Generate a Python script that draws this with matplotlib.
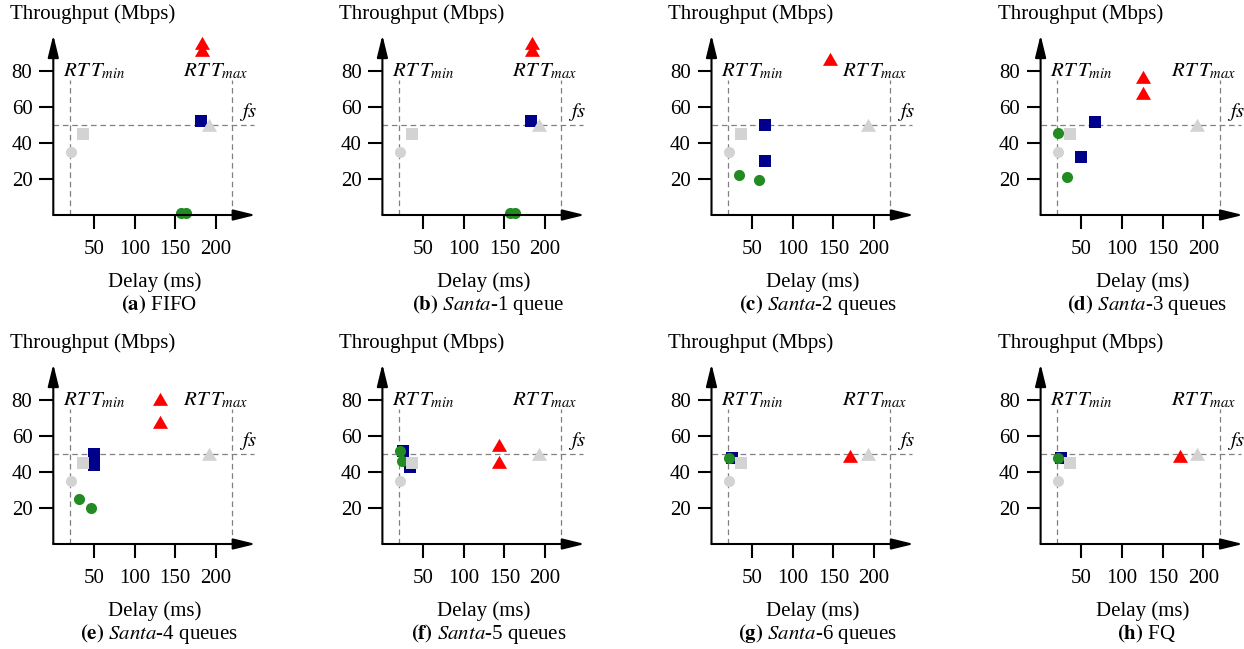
import matplotlib
matplotlib.use('Agg')
import matplotlib.pyplot as plt

plt.rcParams['font.family'] = 'serif'
plt.rcParams['font.serif'] = ['Liberation Serif', 'STIXGeneral', 'DejaVu Serif']
plt.rcParams['mathtext.fontset'] = 'stix'

# one entry per panel (a)..(h)
captions = [r'$\mathbf{(a)}$ FIFO',
            r'$\mathbf{(b)}$ $\mathit{Santa}$-1 queue',
            r'$\mathbf{(c)}$ $\mathit{Santa}$-2 queues',
            r'$\mathbf{(d)}$ $\mathit{Santa}$-3 queues',
            r'$\mathbf{(e)}$ $\mathit{Santa}$-4 queues',
            r'$\mathbf{(f)}$ $\mathit{Santa}$-5 queues',
            r'$\mathbf{(g)}$ $\mathit{Santa}$-6 queues',
            r'$\mathbf{(h)}$ FQ']

delay_green = [[157, 163], [157, 163], [34, 59], [21, 32], [32, 46], [22, 24], [21], [21]]
thr_green = [[1, 1], [1, 1], [22, 19.5], [45.5, 21], [25, 20], [51.5, 46], [48], [48]]

delay_blue = [[182], [183], [65.5, 65.5], [67, 50], [50, 50], [25, 34.5], [25], [25]]
thr_blue = [[52], [52], [50, 30], [51.5, 32], [50, 44], [51.5, 43], [48], [48]]

delay_red = [[183, 183], [184, 184], [146], [126, 126], [131, 131], [143, 143], [170], [171]]
thr_red = [[94.3, 90.3], [94.3, 90.3], [85.6], [75.3, 66.8], [79.3, 66.8], [53.8, 44.3], [48], [48]]

# reference points (same in every panel)
ref_circle = (22, 35)
ref_square = (36, 45)
ref_triangle = (192, 49)

rtt_min = 20
rtt_max = 220
fair_share = 50

W, H = 1244, 649
fig = plt.figure(figsize=(W / 100, H / 100), dpi=100)

lefts = [53.3, 382.4, 711.5, 1040.6]
bottoms = [215, 544]
ax_w, ax_h = 203.3, 180

gray_d = '#808080'
light = '#d3d3d3'
tri = (3, 0, 0)
fs = 15

for i in range(8):
    r, c = divmod(i, 4)
    ax = fig.add_axes([lefts[c] / W, 1 - bottoms[r] / H, ax_w / W, ax_h / H])
    ax.set_xlim(0, 250)
    ax.set_ylim(0, 100)
    for s in ax.spines.values():
        s.set_visible(False)

    # axes with arrows
    arr = dict(arrowstyle='-|>,head_length=0.9,head_width=0.22', lw=1.5, color='k',
               shrinkA=0, shrinkB=0, mutation_scale=15)
    ax.annotate('', xy=(249, 0), xytext=(0, 0), arrowprops=arr, annotation_clip=False)
    ax.annotate('', xy=(0, 100), xytext=(0, 0), arrowprops=arr, annotation_clip=False)

    ax.set_xticks([50, 100, 150, 200])
    ax.set_yticks([20, 40, 60, 80])
    ax.tick_params(axis='both', direction='out', length=10, width=1.5, labelsize=fs)
    ax.tick_params(axis='x', pad=8)
    ax.tick_params(axis='y', pad=5)

    # guide lines
    dash = dict(color=gray_d, lw=0.9, dashes=(4.5, 3))
    ax.plot([rtt_min, rtt_min], [0, 75], **dash)
    ax.plot([rtt_max, rtt_max], [0, 75], **dash)
    ax.plot([0, 247], [fair_share, fair_share], clip_on=False, **dash)
    ax.text(50, 80, r'$RT\,T_{min}$', ha='center', va='center', fontsize=fs)
    ax.text(200, 80, r'$RT\,T_{max}$', ha='center', va='center', fontsize=fs)
    ax.text(240, 57, r'$fs$', ha='center', va='center', fontsize=fs)

    # flows
    ax.plot(delay_blue[i], thr_blue[i], 's', color='#00008b', ms=8, mew=0, clip_on=False)
    ax.plot(delay_green[i], thr_green[i], 'o', color='#228b22', ms=8, mew=0, clip_on=False)
    ax.plot(delay_red[i], thr_red[i], marker=tri, ls='none', color='red', ms=12.5, mew=0, clip_on=False)
    ax.plot(*ref_circle, 'o', color=light, ms=8, mew=0, clip_on=False)
    ax.plot(*ref_square, 's', color=light, ms=8, mew=0, clip_on=False)
    ax.plot(*ref_triangle, marker=tri, color=light, ms=12.5, mew=0, clip_on=False)

    ax.text(-43 / ax_w, 201 / ax_h, 'Throughput (Mbps)', transform=ax.transAxes,
            ha='left', va='center', fontsize=fs)
    ax.text(0.5, -67 / ax_h, 'Delay (ms)', transform=ax.transAxes,
            ha='center', va='center', fontsize=fs)
    ax.text(106 / ax_w, -90 / ax_h, captions[i], transform=ax.transAxes,
            ha='center', va='center', fontsize=fs)

fig.savefig('out.png', dpi=100)
